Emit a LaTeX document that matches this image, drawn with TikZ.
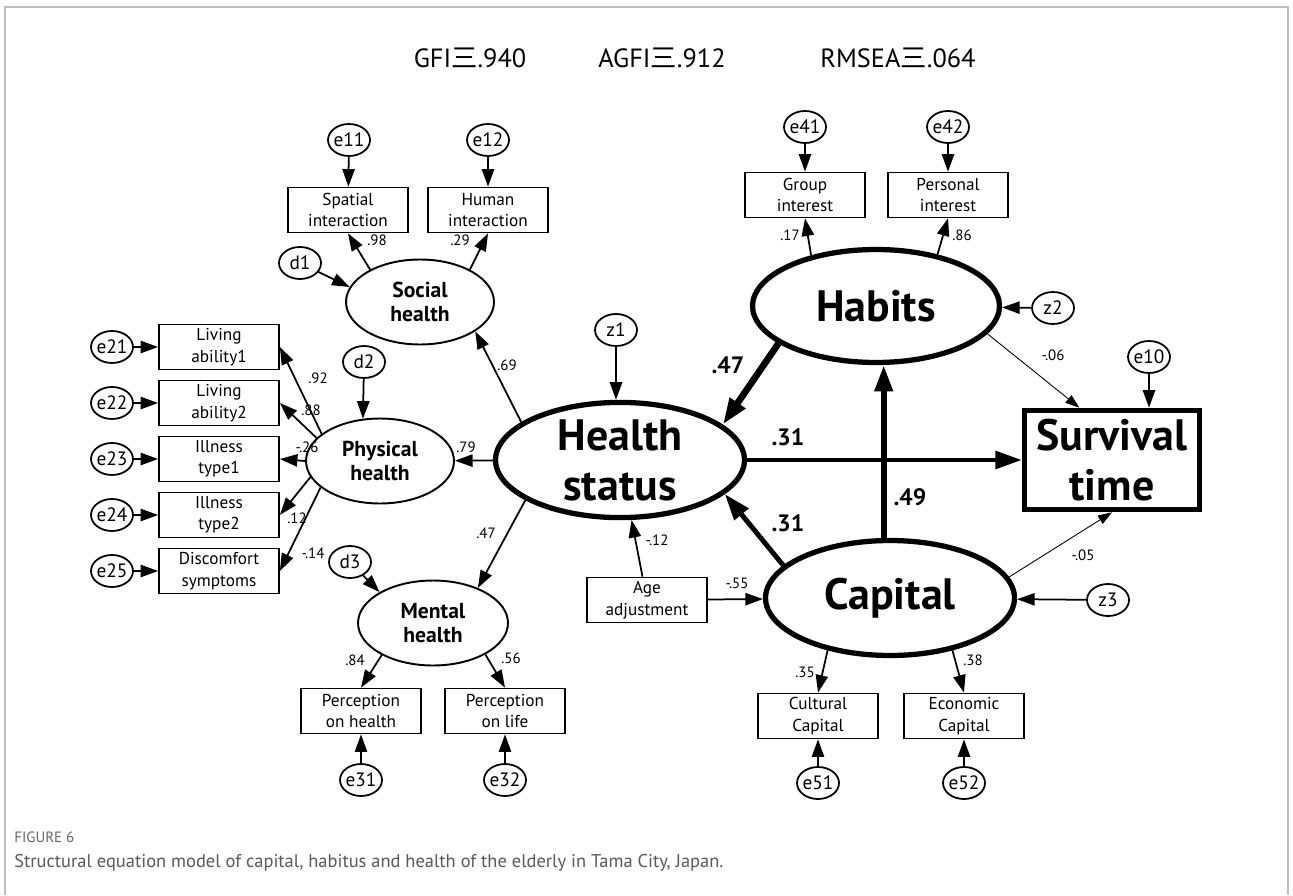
\documentclass[tikz,border=0pt]{standalone}
\usepackage{fontspec}
\setmainfont{PT Sans}
\newfontfamily\cjk{Noto Sans CJK JP}
\usetikzlibrary{shapes.geometric,arrows.meta}

\newcommand\boxfont{\fontsize{9.8}{12.2}\selectfont}
\newcommand\midfont{\fontsize{12.3}{14}\selectfont\bfseries}
\newcommand\bigfont{\fontsize{25}{28.5}\selectfont\bfseries}
\newcommand\coeffont{\fontsize{8.5}{10}\selectfont}
\newcommand\pathfont{\fontsize{13.5}{15}\selectfont\bfseries}
\newcommand\errfont{\fontsize{11}{12}\selectfont}
\newcommand\titlefont{\fontsize{15}{17}\selectfont}

\tikzset{
  err/.style={ellipse, draw, line width=1pt, inner xsep=-1.5pt, inner ysep=0pt,
    minimum width=0.84cm, minimum height=0.64cm, font=\errfont},
  obs/.style={rectangle, draw, line width=1pt, minimum width=2.4cm, minimum height=0.9cm,
    inner sep=1pt, align=center, font=\boxfont},
  lat/.style={ellipse, draw, line width=1.1pt, minimum width=2.96cm, minimum height=1.7cm,
    inner sep=0pt, align=center, font=\midfont},
  biglat/.style={ellipse, draw, line width=3pt, inner sep=0pt, align=center, font=\bigfont},
  arr/.style={line width=1pt, -{Triangle[length=10pt,width=7pt]}},
  thinarr/.style={line width=0.5pt, -{Triangle[length=8pt,width=5.5pt]}},
  fatarr/.style={-{Triangle[length=15pt,width=10pt]}},
  coef/.style={font=\coeffont, inner sep=0.5pt},
  pcoef/.style={font=\pathfont, inner sep=1pt}
}

\begin{document}
\begin{tikzpicture}[x=0.02cm, y=-0.02cm]
\useasboundingbox (0,0) rectangle (1293,895);

% frame
\draw[black!25, line width=0.8pt] (5,895) -- (5,7) -- (1288,7) -- (1288,895);

% fit indices
\node[font=\titlefont] (gfi) at (470,58) {GFI{\cjk 三}.940};
\node[font=\titlefont] (agfi) at (662,58) {AGFI{\cjk 三}.912};
\node[font=\titlefont] (rmsea) at (898,58) {RMSEA{\cjk 三}.064};

% main latent variables
\node[biglat, minimum width=4.98cm, minimum height=2.18cm] (hs) at (620,460) {Health\\status};
\node[biglat, minimum width=4.94cm, minimum height=2.26cm] (hab) at (876,306) {Habits};
\node[biglat, minimum width=4.98cm, minimum height=2.3cm] (cap) at (890,598) {Capital};
\node[rectangle, draw, line width=3.2pt, minimum width=3.5cm, minimum height=1.98cm,
  align=center, font=\bigfont] (surv) at (1112,460) {Survival\\time};

% health factors
\node[lat] (soc) at (420,302) {Social\\health};
\node[lat] (phys) at (380,461) {Physical\\health};
\node[lat, minimum width=3cm] (ment) at (433,623) {Mental\\health};
\node[err] (d1) at (300,263) {d1};
\node[err] (d2) at (364,362) {d2};
\node[err] (d3) at (350,562) {d3};

\node[obs] (sp) at (348,210) {Spatial\\interaction};
\node[obs] (hu) at (488,210) {Human\\interaction};
\node[err] (e11) at (349,140) {e11};
\node[err] (e12) at (488,140) {e12};

\foreach \txt [count=\k] in {{Living\\ability1},{Living\\ability2},{Illness\\type1},
    {Illness\\type2},{Discomfort\\symptoms}}{
  \node[obs] (b2\k) at (219,{291+56*\k}) {\txt};
  \node[err] (e2\k) at (112,{291+56*\k}) {e2\k};
  \draw[arr] (e2\k) -- (b2\k);
}
\foreach \k/\a in {1/155,2/160,3/180,4/193,5/204}
  \draw[arr] (phys.\a) -- (b2\k.east);

\node[obs] (poh) at (361,711) {Perception\\on health};
\node[obs] (pol) at (505,711) {Perception\\on life};
\node[err] (e31) at (361,780) {e31};
\node[err] (e32) at (505,780) {e32};

% habits and capital indicators
\node[obs] (grp) at (805,195) {Group\\interest};
\node[obs] (pers) at (948,195) {Personal\\interest};
\node[err] (e41) at (805,127) {e41};
\node[err] (e42) at (948,127) {e42};
\node[obs] (cult) at (818,716) {Cultural\\Capital};
\node[obs] (econ) at (964,716) {Economic\\Capital};
\node[err] (e51) at (818,783) {e51};
\node[err] (e52) at (964,783) {e52};

\node[obs] (age) at (647,600) {Age\\adjustment};
\node[err] (z1) at (616,330) {z1};
\node[err] (z2) at (1053,308) {z2};
\node[err] (z3) at (1108,600) {z3};
\node[err] (e10) at (1149,357) {e10};

% measurement paths
\draw[arr] (e11) -- (sp);
\draw[arr] (e12) -- (hu);
\draw[arr] (soc.147) -- (sp.south);
\draw[arr] (soc.33) -- (hu.south);
\draw[arr] (d1) -- (soc.168);
\draw[arr] (d2) -- (phys.112);
\draw[arr] (d3) -- (ment.150);
\draw[arr] (ment.212) -- (poh.north);
\draw[arr] (ment.329) -- (pol.north);
\draw[arr] (e31) -- (poh);
\draw[arr] (e32) -- (pol);
\draw[arr] (hab.142) -- (grp.south);
\draw[arr] (hab.40) -- (pers.south);
\draw[arr] (e41) -- (grp);
\draw[arr] (e42) -- (pers);
\draw[arr] (cap.220) -- (cult.north);
\draw[arr] (cap.320) -- (econ.north);
\draw[arr] (e51) -- (cult);
\draw[arr] (e52) -- (econ);

% structural paths
\draw[arr] (hs.159) -- (soc.-28);
\draw[arr] (hs) -- (phys);
\draw[arr] (hs.203) -- (ment.38);
\draw[arr] (z1) -- (z1 |- hs.north);
\draw[arr] (z2) -- (hab);
\draw[arr] (z3) -- (cap);
\draw[arr] (e10) -- (e10 |- surv.north);
\draw[arr] (age) -- (hs);
\draw[arr] (age) -- (cap);
\draw[fatarr, line width=3.8pt] (hab.201) -- (hs.19);
\draw[fatarr, line width=2.3pt] (hs) -- (surv);
\draw[fatarr, line width=3.3pt] (cap.96) -- (cap.96 |- hab.south);
\draw[fatarr, line width=2.8pt] (cap.163) -- (hs.-18);
\draw[thinarr] (hab.346) -- (surv.122);
\draw[thinarr] (cap.10) -- (surv.south);

% coefficients
\node[coef] (c98) at (377,240) {.98};
\node[coef] (c29) at (460,240) {.29};
\node[coef] (c69) at (507,365) {.69};
\node[coef] (c92) at (318,378) {.92};
\node[coef] (c88) at (311,410) {.88};
\node[coef] (c26) at (307,447) {-.26};
\node[coef] (c12) at (297,518) {.12};
\node[coef] (c14) at (313,553) {-.14};
\node[coef] (c79) at (466,447) {.79};
\node[coef] (c47) at (486,533) {.47};
\node[coef] (c84) at (355,660) {.84};
\node[coef] (c56) at (511,658) {.56};
\node[coef] (cage) at (657,540) {-.12};
\node[coef] (c55) at (737,583) {-.55};
\node[coef] (c17) at (790,235) {.17};
\node[coef] (c86) at (962,235) {.86};
\node[coef] (c06) at (1053,355) {-.06};
\node[coef] (c05) at (1083,555) {-.05};
\node[coef] (c35) at (805,672) {.35};
\node[coef] (c38) at (973,660) {.38};
\node[pcoef] (p47) at (728,365) {.47};
\node[pcoef] (p31a) at (788,437) {.31};
\node[pcoef] (p49) at (910,497) {.49};
\node[pcoef] (p31b) at (788,523) {.31};

% caption
\node[anchor=west, inner sep=0pt, text=black!60, font=\fontsize{8.5}{10}\selectfont] (fig) at (14,837) {FIGURE 6};
\node[anchor=west, inner sep=0pt, text=black!65, font=\fontsize{10.5}{12}\selectfont] (captxt) at (14,863)
  {Structural equation model of capital, habitus and health of the elderly in Tama City, Japan.};
\end{tikzpicture}
\end{document}
